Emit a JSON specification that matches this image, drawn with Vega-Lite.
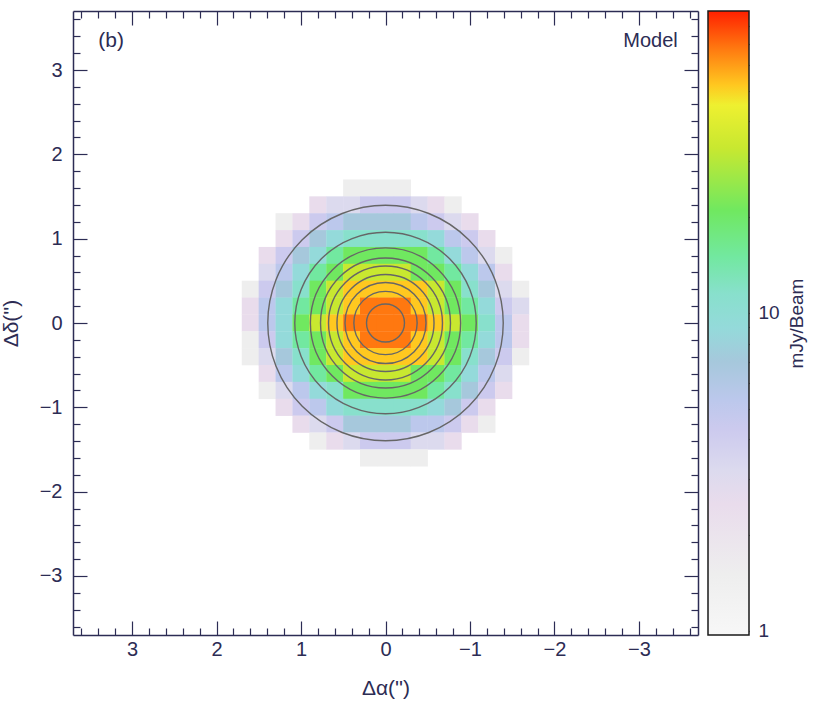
{
  "$schema": "https://vega.github.io/schema/vega-lite/v6.json",
  "background": "white",
  "padding": {"left": 0, "top": 9, "right": 5, "bottom": 5},
  "config": {"view": {"stroke": null}, "font": "Liberation Sans", "concat": {"spacing": 8}},
  "datasets": {
    "pixels": [
      {"x":0.4,"y":1.6,"v":1.5},{"x":0.2,"y":1.6,"v":1.5},{"x":0,"y":1.6,"v":1.5},{"x":-0.2,"y":1.6,"v":1.5},
      {"x":0.8,"y":1.4,"v":2.5},{"x":0.6,"y":1.4,"v":3.2},{"x":0.4,"y":1.4,"v":3.2},{"x":0.2,"y":1.4,"v":4.3},{"x":0,"y":1.4,"v":4.3},{"x":-0.2,"y":1.4,"v":4.3},{"x":-0.4,"y":1.4,"v":3.2},{"x":-0.6,"y":1.4,"v":2.5},{"x":-0.8,"y":1.4,"v":1.5},
      {"x":1.2,"y":1.2,"v":1.5},{"x":1.0,"y":1.2,"v":2.5},{"x":0.8,"y":1.2,"v":4.3},{"x":0.6,"y":1.2,"v":5.3},{"x":0.4,"y":1.2,"v":7},{"x":0.2,"y":1.2,"v":7},{"x":0,"y":1.2,"v":7},{"x":-0.2,"y":1.2,"v":7},{"x":-0.4,"y":1.2,"v":5.3},{"x":-0.6,"y":1.2,"v":4.3},{"x":-0.8,"y":1.2,"v":3.2},{"x":-1.0,"y":1.2,"v":2.5},
      {"x":1.2,"y":1.0,"v":2.5},{"x":1.0,"y":1.0,"v":4.3},{"x":0.8,"y":1.0,"v":7},{"x":0.6,"y":1.0,"v":9},{"x":0.4,"y":1.0,"v":11.5},{"x":0.2,"y":1.0,"v":11.5},{"x":0,"y":1.0,"v":11.5},{"x":-0.2,"y":1.0,"v":11.5},{"x":-0.4,"y":1.0,"v":11.5},{"x":-0.6,"y":1.0,"v":9},{"x":-0.8,"y":1.0,"v":5.3},{"x":-1.0,"y":1.0,"v":4.3},{"x":-1.2,"y":1.0,"v":2.5},
      {"x":1.4,"y":0.8,"v":2.5},{"x":1.2,"y":0.8,"v":4.3},{"x":1.0,"y":0.8,"v":7},{"x":0.8,"y":0.8,"v":9},{"x":0.6,"y":0.8,"v":15},{"x":0.4,"y":0.8,"v":21},{"x":0.2,"y":0.8,"v":21},{"x":0,"y":0.8,"v":21},{"x":-0.2,"y":0.8,"v":21},{"x":-0.4,"y":0.8,"v":21},{"x":-0.6,"y":0.8,"v":15},{"x":-0.8,"y":0.8,"v":9},{"x":-1.0,"y":0.8,"v":5.3},{"x":-1.2,"y":0.8,"v":3.2},{"x":-1.4,"y":0.8,"v":1.5},
      {"x":1.4,"y":0.6,"v":3.2},{"x":1.2,"y":0.6,"v":5.3},{"x":1.0,"y":0.6,"v":9},{"x":0.8,"y":0.6,"v":15},{"x":0.6,"y":0.6,"v":21},{"x":0.4,"y":0.6,"v":33},{"x":0.2,"y":0.6,"v":33},{"x":0,"y":0.6,"v":33},{"x":-0.2,"y":0.6,"v":33},{"x":-0.4,"y":0.6,"v":21},{"x":-0.6,"y":0.6,"v":21},{"x":-0.8,"y":0.6,"v":15},{"x":-1.0,"y":0.6,"v":9},{"x":-1.2,"y":0.6,"v":5.3},{"x":-1.4,"y":0.6,"v":2.5},
      {"x":1.6,"y":0.4,"v":1.5},{"x":1.4,"y":0.4,"v":4.3},{"x":1.2,"y":0.4,"v":7},{"x":1.0,"y":0.4,"v":11.5},{"x":0.8,"y":0.4,"v":21},{"x":0.6,"y":0.4,"v":33},{"x":0.4,"y":0.4,"v":52},{"x":0.2,"y":0.4,"v":52},{"x":0,"y":0.4,"v":52},{"x":-0.2,"y":0.4,"v":52},{"x":-0.4,"y":0.4,"v":52},{"x":-0.6,"y":0.4,"v":33},{"x":-0.8,"y":0.4,"v":21},{"x":-1.0,"y":0.4,"v":11.5},{"x":-1.2,"y":0.4,"v":7},{"x":-1.4,"y":0.4,"v":3.2},{"x":-1.6,"y":0.4,"v":1.5},
      {"x":1.6,"y":0.2,"v":2.5},{"x":1.4,"y":0.2,"v":5.3},{"x":1.2,"y":0.2,"v":9},{"x":1.0,"y":0.2,"v":15},{"x":0.8,"y":0.2,"v":21},{"x":0.6,"y":0.2,"v":33},{"x":0.4,"y":0.2,"v":52},{"x":0.2,"y":0.2,"v":68},{"x":0,"y":0.2,"v":68},{"x":-0.2,"y":0.2,"v":68},{"x":-0.4,"y":0.2,"v":52},{"x":-0.6,"y":0.2,"v":33},{"x":-0.8,"y":0.2,"v":21},{"x":-1.0,"y":0.2,"v":15},{"x":-1.2,"y":0.2,"v":9},{"x":-1.4,"y":0.2,"v":4.3},{"x":-1.6,"y":0.2,"v":3.2},
      {"x":1.6,"y":0,"v":2.5},{"x":1.4,"y":0,"v":5.3},{"x":1.2,"y":0,"v":9},{"x":1.0,"y":0,"v":21},{"x":0.8,"y":0,"v":33},{"x":0.6,"y":0,"v":52},{"x":0.4,"y":0,"v":68},{"x":0.2,"y":0,"v":68},{"x":0,"y":0,"v":68},{"x":-0.2,"y":0,"v":68},{"x":-0.4,"y":0,"v":68},{"x":-0.6,"y":0,"v":52},{"x":-0.8,"y":0,"v":33},{"x":-1.0,"y":0,"v":21},{"x":-1.2,"y":0,"v":11.5},{"x":-1.4,"y":0,"v":5.3},{"x":-1.6,"y":0,"v":2.5},
      {"x":1.6,"y":-0.2,"v":1.5},{"x":1.4,"y":-0.2,"v":4.3},{"x":1.2,"y":-0.2,"v":9},{"x":1.0,"y":-0.2,"v":15},{"x":0.8,"y":-0.2,"v":21},{"x":0.6,"y":-0.2,"v":33},{"x":0.4,"y":-0.2,"v":52},{"x":0.2,"y":-0.2,"v":68},{"x":0,"y":-0.2,"v":68},{"x":-0.2,"y":-0.2,"v":68},{"x":-0.4,"y":-0.2,"v":52},{"x":-0.6,"y":-0.2,"v":33},{"x":-0.8,"y":-0.2,"v":21},{"x":-1.0,"y":-0.2,"v":15},{"x":-1.2,"y":-0.2,"v":9},{"x":-1.4,"y":-0.2,"v":5.3},{"x":-1.6,"y":-0.2,"v":2.5},
      {"x":1.6,"y":-0.4,"v":1.5},{"x":1.4,"y":-0.4,"v":3.2},{"x":1.2,"y":-0.4,"v":7},{"x":1.0,"y":-0.4,"v":11.5},{"x":0.8,"y":-0.4,"v":21},{"x":0.6,"y":-0.4,"v":33},{"x":0.4,"y":-0.4,"v":52},{"x":0.2,"y":-0.4,"v":52},{"x":0,"y":-0.4,"v":52},{"x":-0.2,"y":-0.4,"v":52},{"x":-0.4,"y":-0.4,"v":52},{"x":-0.6,"y":-0.4,"v":33},{"x":-0.8,"y":-0.4,"v":21},{"x":-1.0,"y":-0.4,"v":11.5},{"x":-1.2,"y":-0.4,"v":7},{"x":-1.4,"y":-0.4,"v":4.3},{"x":-1.6,"y":-0.4,"v":1.5},
      {"x":1.4,"y":-0.6,"v":2.5},{"x":1.2,"y":-0.6,"v":5.3},{"x":1.0,"y":-0.6,"v":9},{"x":0.8,"y":-0.6,"v":15},{"x":0.6,"y":-0.6,"v":21},{"x":0.4,"y":-0.6,"v":33},{"x":0.2,"y":-0.6,"v":33},{"x":0,"y":-0.6,"v":33},{"x":-0.2,"y":-0.6,"v":33},{"x":-0.4,"y":-0.6,"v":21},{"x":-0.6,"y":-0.6,"v":21},{"x":-0.8,"y":-0.6,"v":15},{"x":-1.0,"y":-0.6,"v":9},{"x":-1.2,"y":-0.6,"v":5.3},{"x":-1.4,"y":-0.6,"v":3.2},
      {"x":1.4,"y":-0.8,"v":1.5},{"x":1.2,"y":-0.8,"v":3.2},{"x":1.0,"y":-0.8,"v":5.3},{"x":0.8,"y":-0.8,"v":9},{"x":0.6,"y":-0.8,"v":11.5},{"x":0.4,"y":-0.8,"v":21},{"x":0.2,"y":-0.8,"v":21},{"x":0,"y":-0.8,"v":21},{"x":-0.2,"y":-0.8,"v":21},{"x":-0.4,"y":-0.8,"v":21},{"x":-0.6,"y":-0.8,"v":15},{"x":-0.8,"y":-0.8,"v":11.5},{"x":-1.0,"y":-0.8,"v":7},{"x":-1.2,"y":-0.8,"v":4.3},{"x":-1.4,"y":-0.8,"v":2.5},
      {"x":1.2,"y":-1.0,"v":2.5},{"x":1.0,"y":-1.0,"v":4.3},{"x":0.8,"y":-1.0,"v":5.3},{"x":0.6,"y":-1.0,"v":9},{"x":0.4,"y":-1.0,"v":11.5},{"x":0.2,"y":-1.0,"v":11.5},{"x":0,"y":-1.0,"v":11.5},{"x":-0.2,"y":-1.0,"v":11.5},{"x":-0.4,"y":-1.0,"v":11.5},{"x":-0.6,"y":-1.0,"v":9},{"x":-0.8,"y":-1.0,"v":7},{"x":-1.0,"y":-1.0,"v":4.3},{"x":-1.2,"y":-1.0,"v":2.5},
      {"x":1.0,"y":-1.2,"v":2.5},{"x":0.8,"y":-1.2,"v":3.2},{"x":0.6,"y":-1.2,"v":4.3},{"x":0.4,"y":-1.2,"v":7},{"x":0.2,"y":-1.2,"v":7},{"x":0,"y":-1.2,"v":7},{"x":-0.2,"y":-1.2,"v":7},{"x":-0.4,"y":-1.2,"v":5.3},{"x":-0.6,"y":-1.2,"v":5.3},{"x":-0.8,"y":-1.2,"v":4.3},{"x":-1.0,"y":-1.2,"v":2.5},{"x":-1.2,"y":-1.2,"v":1.5},
      {"x":0.8,"y":-1.4,"v":1.5},{"x":0.6,"y":-1.4,"v":2.5},{"x":0.4,"y":-1.4,"v":3.2},{"x":0.2,"y":-1.4,"v":4.3},{"x":0,"y":-1.4,"v":4.3},{"x":-0.2,"y":-1.4,"v":4.3},{"x":-0.4,"y":-1.4,"v":3.2},{"x":-0.6,"y":-1.4,"v":3.2},{"x":-0.8,"y":-1.4,"v":2.5},
      {"x":0.2,"y":-1.6,"v":1.5},{"x":0,"y":-1.6,"v":1.5},{"x":-0.2,"y":-1.6,"v":1.5},{"x":-0.4,"y":-1.6,"v":1.5}
    ],
    "contours": [
      {"x":0,"y":0,"r":1.395},{"x":0,"y":0,"r":1.075},{"x":0,"y":0,"r":0.89},{"x":0,"y":0,"r":0.77},{"x":0,"y":0,"r":0.675},{"x":0,"y":0,"r":0.575},{"x":0,"y":0,"r":0.48},{"x":0,"y":0,"r":0.375},{"x":0,"y":0,"r":0.225}
    ]
  },
  "hconcat": [
    {
      "width": 625,
      "height": 624,
      "resolve": {"axis": {"x": "independent", "y": "independent"}},
      "layer": [
        {
          "data": {"name": "pixels"},
          "mark": {"type": "square", "size": 296, "opacity": 1, "filled": true},
          "encoding": {
            "x": {"field": "x", "type": "quantitative",
              "scale": {"domain": [-3.7, 3.7], "reverse": true, "nice": false, "zero": false},
              "axis": {"orient": "bottom", "grid": false,
                "values": [-3.6,-3.4,-3.2,-3,-2.8,-2.6,-2.4,-2.2,-2,-1.8,-1.6,-1.4,-1.2,-1,-0.8,-0.6,-0.4,-0.2,0,0.2,0.4,0.6,0.8,1,1.2,1.4,1.6,1.8,2,2.2,2.4,2.6,2.8,3,3.2,3.4,3.6],
                "tickSize": {"condition": {"test": "abs(datum.value - round(datum.value)) < 0.01", "value": -14}, "value": -7},
                "labelExpr": "abs(datum.value - round(datum.value)) < 0.01 ? format(datum.value, 'd') : ''",
                "labelFontSize": 20, "labelColor": "#2c2c54", "labelPadding": 18, "labelFlush": false, "labelOverlap": false,
                "tickColor": "#2c2c54", "tickWidth": 1.2, "domainColor": "#2c2c54", "domainWidth": 1.5,
                "title": "Δα('')", "titleFontSize": 21, "titleFontWeight": "normal", "titleColor": "#2c2c54", "titlePadding": 11}},
            "y": {"field": "y", "type": "quantitative",
              "scale": {"domain": [-3.7, 3.7], "nice": false, "zero": false},
              "axis": {"orient": "left", "grid": false,
                "values": [-3.6,-3.4,-3.2,-3,-2.8,-2.6,-2.4,-2.2,-2,-1.8,-1.6,-1.4,-1.2,-1,-0.8,-0.6,-0.4,-0.2,0,0.2,0.4,0.6,0.8,1,1.2,1.4,1.6,1.8,2,2.2,2.4,2.6,2.8,3,3.2,3.4,3.6],
                "tickSize": {"condition": {"test": "abs(datum.value - round(datum.value)) < 0.01", "value": -14}, "value": -7},
                "labelExpr": "abs(datum.value - round(datum.value)) < 0.01 ? format(datum.value, 'd') : ''",
                "labelFontSize": 20, "labelColor": "#2c2c54", "labelPadding": 25, "labelFlush": false, "labelOverlap": false,
                "tickColor": "#2c2c54", "tickWidth": 1.2, "domainColor": "#2c2c54", "domainWidth": 1.5,
                "title": "Δδ('')", "titleFontSize": 21, "titleFontWeight": "normal", "titleColor": "#2c2c54", "titlePadding": 18}},
            "color": {"field": "v", "type": "quantitative",
              "scale": {"type": "log", "clamp": true, "interpolate": "rgb",
                "domain": [1, 1.5, 2.5, 3.2, 4.3, 5.3, 7, 9, 11.5, 15, 21, 33, 45, 52, 68, 89],
                "range": ["#f7f7f7", "#eeeeee", "#e9dcec", "#dcdaee", "#cccaee", "#bcc8ec", "#a6c8dc", "#94dada", "#88e0cc", "#72e8a0", "#70e860", "#c8e830", "#eef030", "#ffc820", "#ff7810", "#ff2000"]},
              "legend": null}
          }
        },
        {
          "data": {"name": "contours"},
          "mark": {"type": "point", "shape": "circle", "filled": false, "stroke": "#666666", "strokeWidth": 1.4, "opacity": 1},
          "encoding": {
            "x": {"field": "x", "type": "quantitative",
              "axis": {"orient": "top", "grid": false, "labels": false, "title": null,
                "values": [-3.6,-3.4,-3.2,-3,-2.8,-2.6,-2.4,-2.2,-2,-1.8,-1.6,-1.4,-1.2,-1,-0.8,-0.6,-0.4,-0.2,0,0.2,0.4,0.6,0.8,1,1.2,1.4,1.6,1.8,2,2.2,2.4,2.6,2.8,3,3.2,3.4,3.6],
                "tickSize": {"condition": {"test": "abs(datum.value - round(datum.value)) < 0.01", "value": -14}, "value": -7},
                "tickColor": "#2c2c54", "tickWidth": 1.2, "domainColor": "#2c2c54", "domainWidth": 1.5}},
            "y": {"field": "y", "type": "quantitative",
              "axis": {"orient": "right", "grid": false, "labels": false, "title": null,
                "values": [-3.6,-3.4,-3.2,-3,-2.8,-2.6,-2.4,-2.2,-2,-1.8,-1.6,-1.4,-1.2,-1,-0.8,-0.6,-0.4,-0.2,0,0.2,0.4,0.6,0.8,1,1.2,1.4,1.6,1.8,2,2.2,2.4,2.6,2.8,3,3.2,3.4,3.6],
                "tickSize": {"condition": {"test": "abs(datum.value - round(datum.value)) < 0.01", "value": -14}, "value": -7},
                "tickColor": "#2c2c54", "tickWidth": 1.2, "domainColor": "#2c2c54", "domainWidth": 1.5}},
            "size": {"field": "r", "type": "quantitative",
              "scale": {"type": "pow", "exponent": 2, "domain": [0, 1], "range": [0, 28493], "zero": true},
              "legend": null}
          }
        },
        {
          "data": {"values": [{"label": "(b)", "x": 3.4, "y": 3.35}]},
          "mark": {"type": "text", "align": "left", "baseline": "middle", "fontSize": 21, "color": "#2c2c54", "font": "Liberation Sans"},
          "encoding": {
            "x": {"field": "x", "type": "quantitative", "axis": null},
            "y": {"field": "y", "type": "quantitative", "axis": null},
            "text": {"field": "label"}
          }
        },
        {
          "data": {"values": [{"label": "Model", "x": -3.46, "y": 3.35}]},
          "mark": {"type": "text", "align": "right", "baseline": "middle", "fontSize": 20, "color": "#2c2c54", "font": "Liberation Sans"},
          "encoding": {
            "x": {"field": "x", "type": "quantitative", "axis": null},
            "y": {"field": "y", "type": "quantitative", "axis": null},
            "text": {"field": "label"}
          }
        }
      ]
    },
    {
      "width": 41,
      "height": 624,
      "data": {"values": [{"lo": 0.97, "hi": 89}]},
      "mark": {"type": "rect", "stroke": "#1a1a1a", "strokeWidth": 1.5,
        "fill": {"gradient": "linear", "x1": 0, "y1": 1, "x2": 0, "y2": 0,
          "stops": [
            {"offset": 0, "color": "#f7f7f7"},
            {"offset": 0.0965, "color": "#eeeeee"},
            {"offset": 0.2095, "color": "#e9dcec"},
            {"offset": 0.2641, "color": "#dcdaee"},
            {"offset": 0.3295, "color": "#cccaee"},
            {"offset": 0.3758, "color": "#bcc8ec"},
            {"offset": 0.4373, "color": "#a6c8dc"},
            {"offset": 0.4930, "color": "#94dada"},
            {"offset": 0.5472, "color": "#88e0cc"},
            {"offset": 0.6060, "color": "#72e8a0"},
            {"offset": 0.6804, "color": "#70e860"},
            {"offset": 0.7805, "color": "#c8e830"},
            {"offset": 0.8491, "color": "#eef030"},
            {"offset": 0.8811, "color": "#ffc820"},
            {"offset": 0.9404, "color": "#ff7810"},
            {"offset": 1, "color": "#ff2000"}
          ]}},
      "encoding": {
        "y": {"field": "lo", "type": "quantitative",
          "scale": {"type": "log", "domain": [0.97, 89], "nice": false, "zero": false},
          "axis": {"orient": "right", "grid": false, "domain": false,
            "values": [1,2,3,4,5,6,7,8,9,10,20,30,40,50,60,70,80],
            "tickSize": {"condition": {"test": "datum.value == 1 || datum.value == 10", "value": -11}, "value": -6},
            "labelExpr": "datum.value == 1 || datum.value == 10 ? format(datum.value, 'd') : ''",
            "labelFontSize": 19, "labelColor": "#2c2c54", "labelPadding": 20, "labelOverlap": false, "labelFlush": false,
            "tickColor": "#1a1a1a", "tickWidth": 1.2,
            "title": "mJy/Beam", "titleAngle": 270, "titleFontSize": 19, "titleFontWeight": "normal", "titleColor": "#2c2c54", "titlePadding": 27}},
        "y2": {"field": "hi"}
      }
    }
  ]
}
